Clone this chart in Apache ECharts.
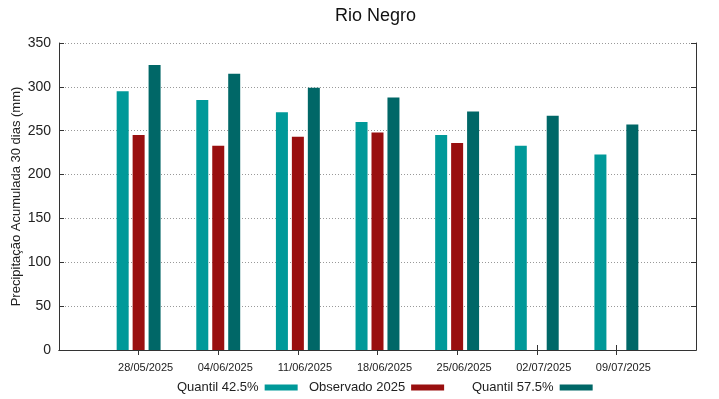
<!DOCTYPE html>
<html>
<head>
<meta charset="utf-8">
<script src="https://cdn.jsdelivr.net/npm/echarts@6/dist/echarts.min.js"></script>
<style>
  html, body { margin: 0; padding: 0; background: #fff; }
  #chart { width: 719px; height: 399px; }
</style>
</head>
<body>
<div id="chart"></div>
<script>
const categories = ['28/05/2025', '04/06/2025', '11/06/2025', '18/06/2025', '25/06/2025', '02/07/2025', '09/07/2025'];
const quantil425 = [295, 285, 271, 260, 245, 233, 223];
const observado2025 = [245, 233, 243, 248, 236, null, null];
const quantil575 = [325, 315, 299, 288, 272, 267, 257];
const yTicks = [0, 50, 100, 150, 200, 250, 300, 350];

// padded so the dates sit one slot in from each side of the frame
const xData = [''].concat(categories, ['']);
const pad = arr => [null].concat(arr, [null]);

const chart = echarts.init(document.getElementById('chart'), null, { renderer: 'canvas' });
const font = 'Liberation Sans, Arial, sans-serif';
const frame = { show: true, lineStyle: { color: '#333', width: 1 } };
const notPad = (i) => i > 0 && i < xData.length - 1;

function legendAt(left, name) {
  return {
    left: left,
    top: 381,
    padding: 0,
    data: [name],
    align: 'right',
    icon: 'rect',
    itemWidth: 33,
    itemHeight: 6,
    textStyle: { fontFamily: font, fontSize: 13, color: '#222', padding: [0, 1, 0, 0] }
  };
}

const option = {
  animation: false,
  backgroundColor: '#fff',
  title: {
    text: 'Rio Negro',
    left: 335,
    top: 7,
    padding: 0,
    textStyle: { fontFamily: font, fontSize: 18, fontWeight: 'normal', color: '#111' }
  },
  legend: [
    legendAt(177, 'Quantil 42.5%'),
    legendAt(309, 'Observado 2025'),
    legendAt(472, 'Quantil 57.5%')
  ],
  grid: { left: 59, right: 23, top: 43, bottom: 49, outerBoundsMode: 'none', containLabel: false },
  xAxis: [
    {
      type: 'category',
      data: xData,
      boundaryGap: false,
      axisLine: frame,
      axisTick: { show: true, inside: true, length: 5, interval: notPad, lineStyle: { color: '#333' } },
      axisLabel: {
        interval: notPad,
        margin: 12,
        padding: [0, 0, 0, 14],
        fontFamily: font,
        fontSize: 11,
        color: '#222'
      },
      splitLine: { show: false }
    },
    {
      type: 'category',
      data: xData,
      position: 'top',
      boundaryGap: false,
      axisLine: frame,
      axisTick: { show: true, inside: true, length: 5, interval: notPad, lineStyle: { color: '#333' } },
      axisLabel: { show: false },
      splitLine: { show: false }
    }
  ],
  yAxis: [
    {
      type: 'value',
      min: 0,
      max: 350,
      interval: 50,
      name: 'Precipitação Acumulada 30 dias (mm)',
      nameLocation: 'middle',
      nameGap: 36,
      nameMoveOverlap: false,
      nameTextStyle: { fontFamily: font, fontSize: 13, color: '#222' },
      axisLine: frame,
      axisTick: { show: true, inside: true, length: 5, lineStyle: { color: '#333' } },
      axisLabel: {
        margin: 8,
        fontFamily: font,
        fontSize: 14,
        color: '#222',
        formatter: v => (yTicks.indexOf(v) >= 0 ? String(v) : '')
      },
      splitLine: { show: true, lineStyle: { type: [1, 2], color: '#999', width: 1 } }
    },
    {
      type: 'value',
      min: 0,
      max: 350,
      interval: 50,
      position: 'right',
      axisLine: frame,
      axisTick: { show: true, inside: true, length: 5, lineStyle: { color: '#333' } },
      axisLabel: { show: false },
      splitLine: { show: false }
    }
  ],
  series: [
    {
      name: 'Quantil 42.5%',
      type: 'bar',
      barWidth: 12,
      barGap: '33%',
      itemStyle: { color: '#009999' },
      data: pad(quantil425)
    },
    {
      name: 'Observado 2025',
      type: 'bar',
      barWidth: 12,
      barGap: '33%',
      itemStyle: { color: '#990f0f' },
      data: pad(observado2025)
    },
    {
      name: 'Quantil 57.5%',
      type: 'bar',
      barWidth: 12,
      barGap: '33%',
      itemStyle: { color: '#006767' },
      data: pad(quantil575)
    }
  ]
};

chart.setOption(option);
</script>
</body>
</html>
